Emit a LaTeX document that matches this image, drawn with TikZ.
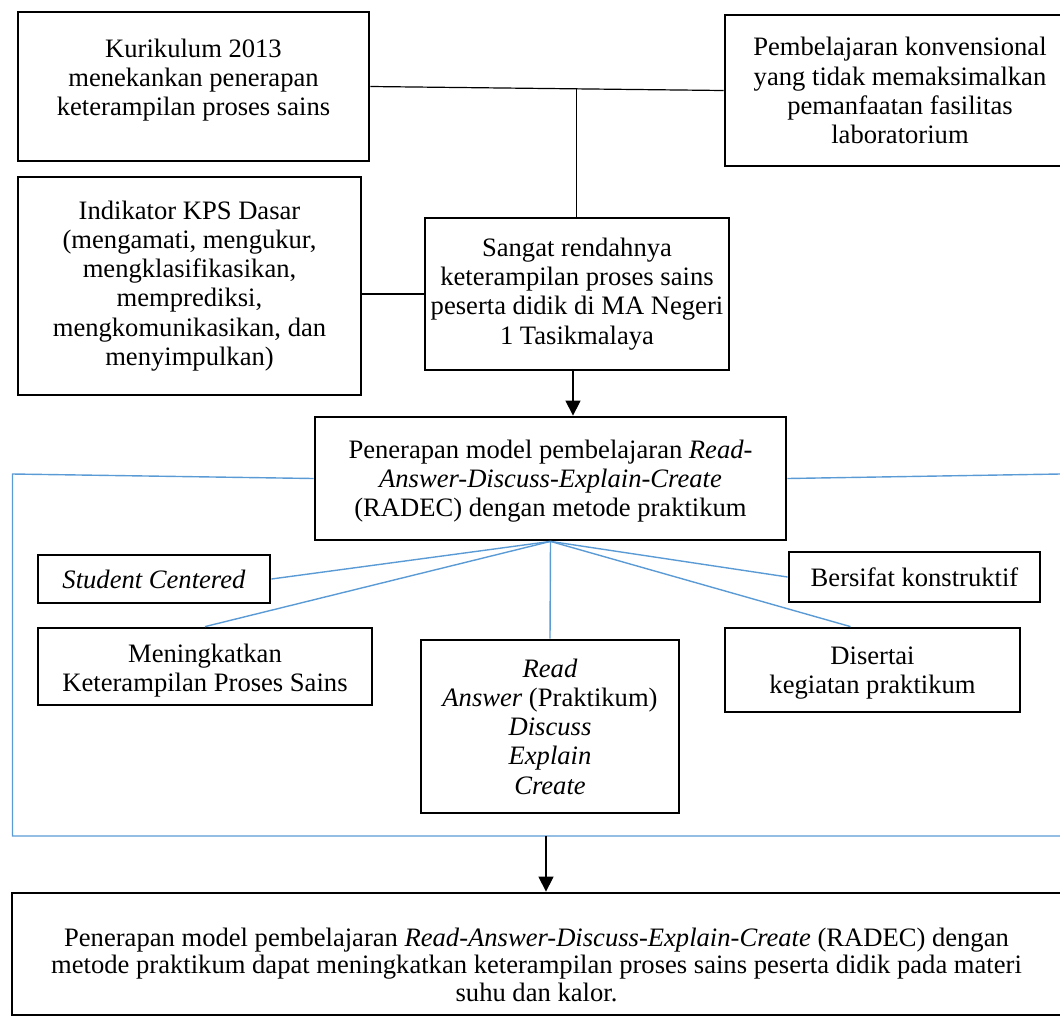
\documentclass[tikz,border=0pt]{standalone}
\usepackage{fontspec}
\setmainfont{Liberation Serif}
\usepackage{xcolor}
\usetikzlibrary{arrows.meta,positioning,calc}
\definecolor{wordblue}{HTML}{5B9BD5}
\definecolor{ink}{HTML}{000000}

\begin{document}
\begin{tikzpicture}[
  x=0.5pt, y=-0.5pt,
  box/.style={draw=ink, line width=1.4pt, fill=white, align=center, inner sep=2pt, font=\fontsize{13.3}{14.6}\selectfont},
  link/.style={draw=ink, line width=0.6pt},
  spoke/.style={draw=wordblue, line width=0.7pt},
  arrow/.style={-{Triangle[length=7.5pt,width=7.5pt]}, line width=0.6pt, draw=ink}
]
\useasboundingbox (0,0) rectangle (1060,1024);

\node[box, minimum width=175.5pt, minimum height=74.5pt] (kur) at (193.5,86.5) {Kurikulum 2013\\menekankan penerapan\\keterampilan proses sains\rule[-9pt]{0pt}{0pt}};
\node[box, minimum width=175pt, minimum height=75.5pt] (konv) at (900,90.5) {Pembelajaran konvensional\\yang tidak memaksimalkan\\pemanfaatan fasilitas\\laboratorium};
\node[box, minimum width=171.5pt, minimum height=109pt] (ind) at (189.5,286) {Indikator KPS Dasar\\(mengamati, mengukur,\\mengklasifikasikan,\\memprediksi,\\mengkomunikasikan, dan\\menyimpulkan)};
\node[box, minimum width=152pt, minimum height=76pt] (sang) at (577,294) {Sangat rendahnya\\keterampilan proses sains\\peserta didik di MA Negeri\\1 Tasikmalaya};
\node[box, minimum width=235.5pt, minimum height=61.5pt] (radec) at (550.5,478.5) {\rule{0pt}{12pt}Penerapan model pembelajaran \textit{Read-}\\\textit{Answer-Discuss-Explain-Create}\\(RADEC) dengan metode praktikum};
\node[box, minimum width=116pt, minimum height=24pt] (stud) at (154,579) {\textit{Student Centered}};
\node[box, minimum width=125.5pt, minimum height=25pt] (bers) at (914.5,577) {Bersifat konstruktif};
\node[box, minimum width=167pt, minimum height=38.5pt] (meni) at (205,666.5) {\rule{0pt}{13pt}Meningkatkan\\Keterampilan Proses Sains};
\node[box, minimum width=129pt, minimum height=86.5pt] (read) at (550,726.5) {\textit{Read}\\\textit{Answer} (Praktikum)\\\textit{Discuss}\\\textit{Explain}\\\textit{Create}};
\node[box, minimum width=147.5pt, minimum height=42pt] (dis) at (872.5,670) {\rule{0pt}{12pt}Disertai\\kegiatan praktikum};
\node[box, minimum width=524.5pt, minimum height=61pt, font=\fontsize{13.3}{13.8}\selectfont] (hasil) at (536.5,954) {\rule{0pt}{20pt}Penerapan model pembelajaran \textit{Read-Answer-Discuss-Explain-Create} (RADEC) dengan\\metode praktikum dapat meningkatkan keterampilan proses sains peserta didik pada materi\\suhu dan kalor.};

\coordinate (join) at ($(kur.east)!0.584!(konv.west)$);
\coordinate (fl) at (12.5,474);
\coordinate (fr) at (1060,474);
\coordinate (fbl) at (12.5,836);
\coordinate (fbr) at (1060,836);
\coordinate (down) at (546,836);

\draw[link] (kur.east) -- (konv.west);
\draw[link] (join) -- (join |- sang.north);
\draw[link] (ind.east |- sang.west) -- (sang.west);
\draw[arrow] ([xshift=-2pt]sang.south) -- ([xshift=-2pt]sang.south |- radec.north);

\draw[spoke] (radec.west) -- (fl) -- (fbl) -- (fbr);
\draw[spoke] (radec.east) -- (fr);
\draw[spoke] (radec.south) -- (stud.east);
\draw[spoke] (radec.south) -- (meni.north);
\draw[spoke] (radec.south) -- (read.north);
\draw[spoke] (radec.south) -- ([xshift=-11pt]dis.north);
\draw[spoke] (radec.south) -- (bers.west);

\draw[arrow] (down) -- (down |- hasil.north);
\end{tikzpicture}
\end{document}
